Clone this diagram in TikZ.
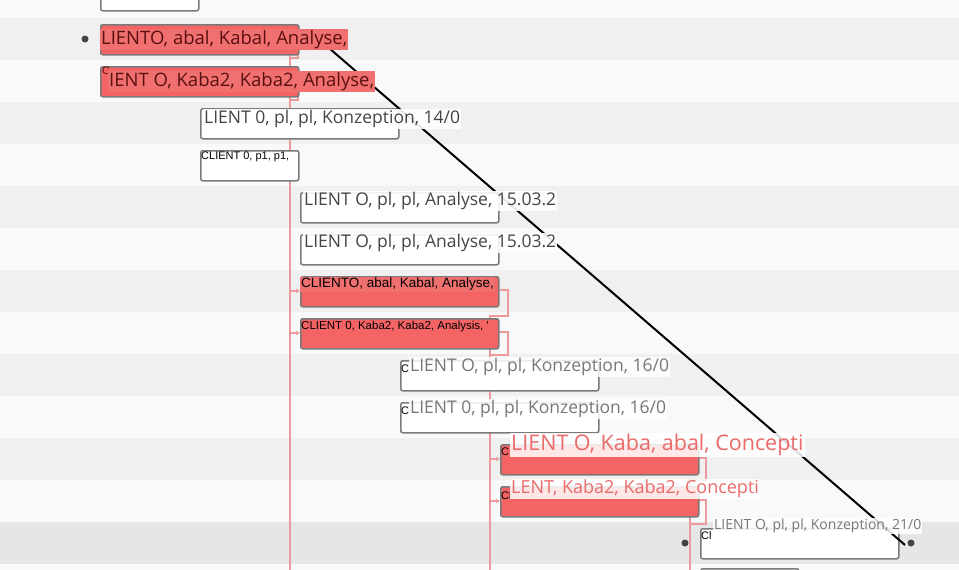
\documentclass[tikz,border=0pt]{standalone}
\usepackage{fontspec}
\setmainfont{Open Sans}
\newfontfamily\arialf{Liberation Sans}
\usetikzlibrary{arrows.meta}
\definecolor{bandg}{HTML}{F0F0F0}
\definecolor{bandw}{HTML}{F9F9F9}
\definecolor{bandd}{HTML}{E6E6E6}
\definecolor{redf}{HTML}{F46464}
\definecolor{redo}{HTML}{F07070}
\definecolor{pinkl}{HTML}{EE9A9A}
\definecolor{salmon}{HTML}{EA6A6A}
\definecolor{bord}{HTML}{7A7A7A}
\definecolor{txtg}{HTML}{444444}
\definecolor{txtl}{HTML}{777777}
\definecolor{dred}{HTML}{5A1010}
\begin{document}
\begin{tikzpicture}[x=1pt,y=-1pt,
 wbox/.style={draw=bord,line width=1.5pt,fill=white,rounded corners=2pt,minimum height=30pt,inner sep=0pt,anchor=north west},
 rbox/.style={draw=bord,line width=1.5pt,fill=redf,rounded corners=2pt,minimum height=30pt,inner sep=0pt,anchor=north west},
 small/.style={font=\arialf\fontsize{11}{12}\selectfont,inner sep=1pt,anchor=north west},
 redlbl/.style={fill=redo,text=dred,font=\fontsize{18.5}{19}\selectfont,inner sep=1pt,anchor=north west},
 whlbl/.style={fill=white,fill opacity=0.9,text opacity=1,text=txtg,font=\fontsize{17.5}{18}\selectfont,inner sep=1pt,anchor=north west},
 glbl/.style={fill=white,fill opacity=0.85,text opacity=1,text=txtl,font=\fontsize{17.5}{18}\selectfont,inner sep=1pt,anchor=north west},
 slbl/.style={fill=white,fill opacity=0.85,text opacity=1,text=salmon,font=\fontsize{21.5}{22}\selectfont,inner sep=1pt,anchor=north west},
 conn/.style={draw=pinkl,line width=1.2pt},
 arr/.style={conn,-{Triangle[length=4pt,width=4pt]}},
 dot/.style={circle,fill=txtg,inner sep=0pt,minimum size=7pt}]
\useasboundingbox (0,0) rectangle (959,570);
\fill[bandw] (0,0) rectangle (959,570);
\foreach \y in {18,102,186,270,354,438} \fill[bandg] (0,\y) rectangle (959,\y+42);
\fill[bandd] (0,522) rectangle (959,564);
% connectors (under boxes)
\draw[conn] (290,54) -- (290,570);
\draw[conn] (298,50) -- (298,58) -- (290,58);
\draw[conn] (298,92) -- (298,100) -- (290,100);
\draw[conn] (498,290) -- (508,290) -- (508,316) -- (490,316) -- (490,570);
\draw[conn] (498,332) -- (508,332) -- (508,355) -- (490,355);
\draw[conn] (698,458) -- (706,458) -- (706,480) -- (690,480) -- (690,570);
\draw[conn] (698,500) -- (706,500) -- (706,524) -- (690,524);
% boxes
\node[wbox,minimum width=98pt] (b0) at (100,-20) {};
\node[rbox,minimum width=198pt] (r1) at (100,24) {};
\node[rbox,minimum width=198pt] (r2) at (100,66) {};
\node[wbox,minimum width=198pt] (w1) at (200,108) {};
\node[wbox,minimum width=98pt] (w2) at (200,150) {};
\node[wbox,minimum width=198pt] (w3) at (300,192) {};
\node[wbox,minimum width=198pt] (w4) at (300,234) {};
\node[rbox,minimum width=198pt] (r3) at (300,276) {};
\node[rbox,minimum width=198pt] (r4) at (300,318) {};
\node[wbox,minimum width=198pt] (w5) at (400,360) {};
\node[wbox,minimum width=198pt] (w6) at (400,402) {};
\node[rbox,minimum width=198pt] (r5) at (500,444) {};
\node[rbox,minimum width=198pt] (r6) at (500,486) {};
\node[wbox,minimum width=198pt] (w7) at (700,528) {};
\node[wbox,minimum width=98pt] (w8) at (700,568) {};
\draw[arr] (290,291) -- (r3.west|-0,291);
\draw[arr] (290,333) -- (r4.west|-0,333);
\draw[arr] (490,459) -- (r5.west|-0,459);
\draw[arr] (490,501) -- (r6.west|-0,501);
% black line and dots
\node[dot] (d1) at (85,39) {};
\node[dot] (d2) at (685,543) {};
\node[dot] (d3) at (911,543) {};
\coordinate (l1) at (322,42);
\coordinate (l2) at (905,545);
\draw[line width=2pt] (l1) -- (l2);
% labels
\node[redlbl] (t1) at (100,29) {LIENTO, abal, Kabal, Analyse,};
\node[small,text=dred] (c2) at (101,66) {C};
\node[redlbl] (t2) at (108,71) {IENT O, Kaba2, Kaba2, Analyse,};
\node[whlbl] (t3) at (203,109) {LIENT 0, pl, pl, Konzeption, 14/0};
\node[small] (t4) at (200,151) {CLIENT 0, p1, p1,};
\node[whlbl] (t5) at (303,191) {LIENT O, pl, pl, Analyse, 15.03.2};
\node[whlbl] (t6) at (303,233) {LIENT O, pl, pl, Analyse, 15.03.2};
\node[small,fill=redo,font=\arialf\fontsize{13.5}{14}\selectfont,inner sep=1pt] (t7) at (300,277) {CLIENTO, abal, Kabal, Analyse,};
\node[small,font=\arialf\fontsize{11.5}{12}\selectfont] (t8) at (300,320) {CLIENT 0, Kaba2, Kaba2, Analysis, '};
\node[small] (c9) at (400,364) {C};
\node[glbl] (t9) at (409,357) {LIENT O, pl, pl, Konzeption, 16/0};
\node[small] (c10) at (400,406) {C};
\node[glbl] (t10) at (409,399) {LIENT 0, pl, pl, Konzeption, 16/0};
\node[small] (c11) at (500,447) {C};
\node[slbl] (t11) at (510,433) {LIENT O, Kaba, abal, Concepti};
\node[small] (c12) at (500,490) {Cl};
\node[slbl,font=\fontsize{18}{19}\selectfont] (t12) at (510,479) {LENT, Kaba2, Kaba2, Concepti};
\node[small] (c13) at (700,530) {Cl};
\node[glbl,font=\fontsize{14}{15}\selectfont] (t13) at (713,518) {LIENT O, pl, pl, Konzeption, 21/0};
\end{tikzpicture}
\end{document}
